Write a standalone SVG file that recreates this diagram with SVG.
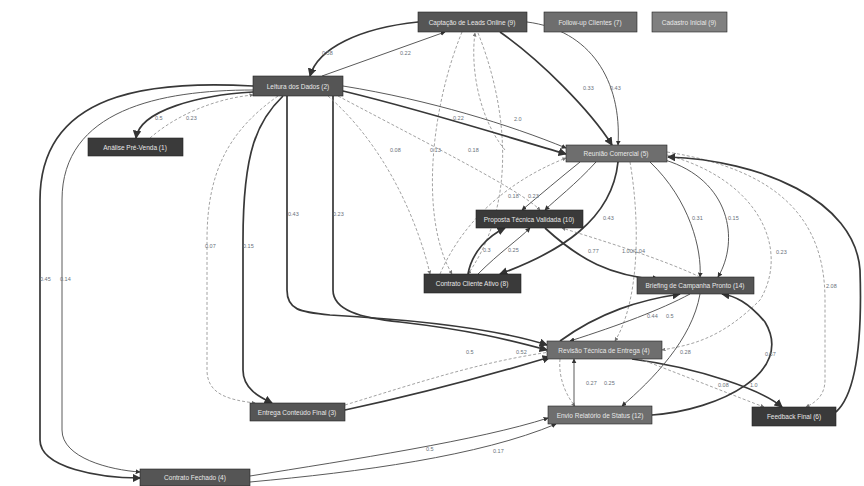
<svg xmlns="http://www.w3.org/2000/svg" width="864" height="486" viewBox="0 0 864 486">
<style>
.bg{fill:#ffffff}
.n rect{stroke:#222;stroke-width:0.6}
.n text{font-family:"Liberation Sans",Arial,sans-serif;font-size:6.5px;fill:#e8e8e8;text-anchor:middle}
.d1{fill:#3a3a3a}.d2{fill:#555}.d3{fill:#6e6e6e}.d4{fill:#808080}
.e path{fill:none}
.thick{stroke:#383838;stroke-width:1.7}
.mid{stroke:#5a5a5a;stroke-width:1}
.thin{stroke:#8a8a8a;stroke-width:0.8;stroke-dasharray:3 2}
.lbl text{font-family:"Liberation Sans",Arial,sans-serif;font-size:5.5px;fill:#68707a}
</style>
<defs>
<marker id="ad" viewBox="0 0 8 8" refX="7" refY="4" markerWidth="5" markerHeight="5" orient="auto"><path d="M0,0 L8,4 L0,8 z" fill="#333"/></marker>
<marker id="al" viewBox="0 0 8 8" refX="7" refY="4" markerWidth="5" markerHeight="5" orient="auto"><path d="M0,0 L8,4 L0,8 z" fill="#777"/></marker>
</defs>
<rect class="bg" x="0" y="0" width="864" height="486"/>
<g id="connectors" class="e">
<path class="thick" marker-end="url(#ad)" d="M418,22 C360,28 318,48 310,76"/>
<path class="mid" marker-end="url(#ad)" d="M322,76 L445,32"/>
<path class="thick" marker-end="url(#ad)" d="M500,32 C540,60 590,110 612,145"/>
<path class="mid" marker-end="url(#ad)" d="M527,22 C590,30 622,80 618,145"/>
<path class="thin" marker-end="url(#al)" d="M462,32 C430,110 420,220 452,274"/>
<path class="thin" marker-end="url(#al)" d="M478,33 C505,100 520,200 468,274"/>
<path class="thin" marker-end="url(#al)" d="M505,150 C480,120 470,70 475,33"/>
<path class="mid" marker-end="url(#ad)" d="M343,86 C430,100 510,125 566,148"/>
<path class="thick" marker-end="url(#ad)" d="M343,91 C430,112 510,138 566,154"/>
<path class="thick" marker-end="url(#ad)" d="M253,86 C150,80 40,92 40,200 L40,440 C40,468 100,478 140,478"/>
<path class="mid" marker-end="url(#ad)" d="M253,90 C160,90 62,110 62,200 L62,430 C62,458 110,470 140,472"/>
<path class="thick" marker-end="url(#ad)" d="M253,92 C200,95 140,110 136,138"/>
<path class="thin" marker-end="url(#al)" d="M150,138 C180,112 220,98 253,95"/>
<path class="thin" marker-end="url(#al)" d="M278,96 C230,130 207,170 207,240 L207,370 C207,395 230,400 255,403"/>
<path class="thick" marker-end="url(#ad)" d="M283,96 C258,120 243,150 243,240 L243,370 C243,390 262,398 272,403"/>
<path class="thick" marker-end="url(#ad)" d="M287,96 L287,290 C287,310 300,312 330,315 C420,320 500,330 547,345"/>
<path class="thick" marker-end="url(#ad)" d="M333,96 L333,290 C333,310 360,318 400,322 C470,330 510,340 547,350"/>
<path class="thin" marker-end="url(#al)" d="M328,96 C390,150 420,230 430,274"/>
<path class="thin" marker-end="url(#al)" d="M338,96 C440,150 520,190 540,210"/>
<path class="thin" marker-end="url(#al)" d="M440,274 C470,205 530,172 566,158"/>
<path class="mid" marker-end="url(#ad)" d="M580,162 C560,178 540,195 522,210"/>
<path class="mid" marker-end="url(#ad)" d="M596,162 C575,185 555,200 545,210"/>
<path class="thick" marker-end="url(#ad)" d="M618,162 C612,220 560,252 500,274"/>
<path class="thin" marker-end="url(#al)" d="M630,162 C640,220 640,300 615,341"/>
<path class="mid" marker-end="url(#ad)" d="M650,162 C690,200 702,250 700,277"/>
<path class="mid" marker-end="url(#ad)" d="M665,160 C730,180 740,240 718,277"/>
<path class="thin" marker-end="url(#al)" d="M667,155 C760,180 790,250 760,300 C720,340 690,345 662,350"/>
<path class="thin" marker-end="url(#al)" d="M667,152 C780,170 825,220 825,300 L825,380 C825,398 812,404 806,407"/>
<path class="thick" marker-end="url(#ad)" d="M836,412 C858,392 862,330 860,270 C855,200 760,160 668,157"/>
<path class="thick" marker-end="url(#ad)" d="M545,228 C580,260 610,276 660,280"/>
<path class="thin" marker-end="url(#al)" d="M700,277 C660,258 600,240 562,228"/>
<path class="thick" marker-end="url(#ad)" d="M468,274 C472,252 488,236 505,228"/>
<path class="mid" marker-end="url(#ad)" d="M478,274 C500,252 518,240 530,228"/>
<path class="thick" marker-end="url(#ad)" d="M560,341 C600,312 640,300 680,294"/>
<path class="mid" marker-end="url(#ad)" d="M690,294 C660,310 620,325 570,341"/>
<path class="thick" marker-end="url(#ad)" d="M632,359 C700,368 762,390 782,407"/>
<path class="thin" marker-end="url(#al)" d="M640,359 C690,378 740,398 764,407"/>
<path class="mid" marker-end="url(#ad)" d="M700,294 C692,340 652,380 622,406"/>
<path class="thick" marker-end="url(#ad)" d="M652,415 C720,410 795,372 765,322 C748,302 735,296 722,294"/>
<path class="thin" marker-end="url(#al)" d="M560,359 C558,380 568,398 575,406"/>
<path class="mid" marker-end="url(#ad)" d="M574,406 L574,359"/>
<path class="thick" marker-end="url(#ad)" d="M345,410 C430,392 500,372 550,357"/>
<path class="thin" marker-end="url(#al)" d="M345,405 C420,382 480,362 550,352"/>
<path class="mid" marker-end="url(#ad)" d="M250,476 C350,460 480,440 548,418"/>
<path class="mid" marker-end="url(#ad)" d="M250,482 C360,472 480,456 556,424"/>
</g>
<g class="lbl">
<text x="322" y="55">0.58</text><text x="400" y="55">0.22</text>
<text x="583" y="90">0.33</text><text x="610" y="90">0.43</text>
<text x="453" y="120">0.22</text><text x="514" y="121">2.0</text>
<text x="155" y="120">0.5</text><text x="186" y="120">0.23</text>
<text x="40" y="281">0.45</text><text x="60" y="281">0.14</text>
<text x="205" y="248">0.07</text><text x="243" y="248">0.15</text>
<text x="288" y="216">0.43</text><text x="333" y="216">0.23</text>
<text x="390" y="152">0.08</text><text x="430" y="152">0.13</text><text x="468" y="152">0.18</text>
<text x="508" y="198">0.18</text><text x="528" y="198">0.23</text>
<text x="603" y="220">0.43</text><text x="692" y="220">0.31</text><text x="728" y="220">0.15</text>
<text x="776" y="254">0.23</text><text x="826" y="288">2.08</text>
<text x="588" y="253">0.77</text><text x="622" y="253">1.00/1.04</text>
<text x="483" y="252">0.3</text><text x="508" y="252">0.25</text>
<text x="647" y="318">0.44</text><text x="666" y="318">0.5</text>
<text x="680" y="354">0.28</text><text x="765" y="356">0.57</text>
<text x="718" y="387">0.08</text><text x="750" y="387">1.0</text>
<text x="586" y="385">0.27</text><text x="604" y="385">0.25</text>
<text x="466" y="354">0.5</text><text x="516" y="354">0.52</text>
<text x="426" y="451">0.5</text><text x="493" y="453">0.17</text>
</g>
<g id="n1" class="n"><rect class="d2" x="418" y="12" width="109" height="20"/><text x="472" y="24.5">Captação de Leads Online (9)</text></g>
<g id="n2" class="n"><rect class="d3" x="544" y="12" width="93" height="20"/><text x="590" y="24.5">Follow-up Clientes (7)</text></g>
<g id="n3" class="n"><rect class="d4" x="652" y="12" width="75" height="20"/><text x="689" y="24.5">Cadastro Inicial (9)</text></g>
<g id="n4" class="n"><rect class="d2" x="253" y="76" width="90" height="20"/><text x="298" y="88.5">Leitura dos Dados (2)</text></g>
<g id="n5" class="n"><rect class="d1" x="88" y="138" width="95" height="18"/><text x="135" y="149.5">Análise Pré-Venda (1)</text></g>
<g id="n6" class="n"><rect class="d3" x="566" y="145" width="101" height="17"/><text x="616" y="156">Reunião Comercial (5)</text></g>
<g id="n7" class="n"><rect class="d1" x="476" y="210" width="107" height="18"/><text x="529" y="221.5">Proposta Técnica Validada (10)</text></g>
<g id="n8" class="n"><rect class="d1" x="424" y="274" width="97" height="19"/><text x="472" y="286">Contrato Cliente Ativo (8)</text></g>
<g id="n9" class="n"><rect class="d2" x="637" y="277" width="117" height="17"/><text x="695" y="288">Briefing de Campanha Pronto (14)</text></g>
<g id="n10" class="n"><rect class="d3" x="547" y="341" width="115" height="18"/><text x="604" y="352.5">Revisão Técnica de Entrega (4)</text></g>
<g id="n11" class="n"><rect class="d2" x="250" y="403" width="95" height="18"/><text x="297" y="414.5">Entrega Conteúdo Final (3)</text></g>
<g id="n12" class="n"><rect class="d3" x="548" y="406" width="104" height="18"/><text x="600" y="417.5">Envio Relatório de Status (12)</text></g>
<g id="n13" class="n"><rect class="d1" x="752" y="407" width="84" height="19"/><text x="794" y="419">Feedback Final (6)</text></g>
<g id="n14" class="n"><rect class="d2" x="140" y="469" width="110" height="17"/><text x="195" y="480">Contrato Fechado (4)</text></g>
</svg>
